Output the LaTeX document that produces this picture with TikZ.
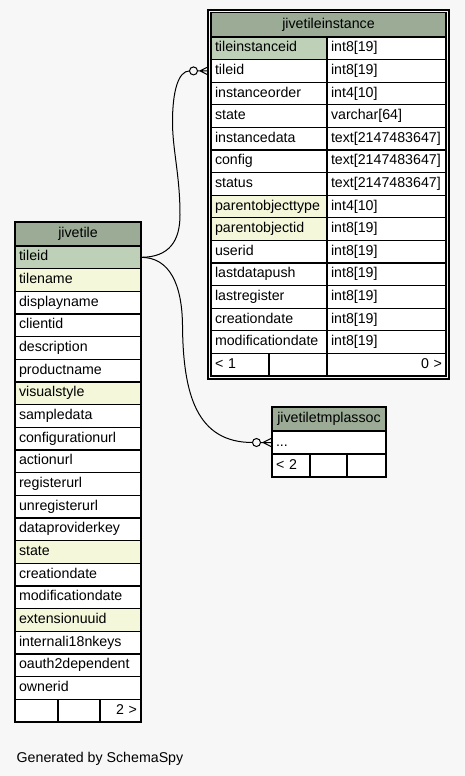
\documentclass[tikz,border=0pt]{standalone}
\usepackage{fontspec}
\setmainfont{Liberation Sans}
\usetikzlibrary{calc}
\definecolor{hdr}{HTML}{9BAB96}
\definecolor{pk}{HTML}{BED1B8}
\definecolor{idx}{HTML}{F4F7DA}
\definecolor{bg}{HTML}{F7F7F7}
\begin{document}
\begin{tikzpicture}[x=1pt,y=-1pt,
  every node/.style={font=\fontsize{14.2}{17}\selectfont, text=black},
  cell/.style={draw=black, line width=1.2pt, anchor=north west, inner xsep=4pt, inner ysep=0pt, outer sep=0pt, text height=10pt, text depth=3pt, align=left, fill=white},
  conn/.style={draw=black, line width=1pt},
  lbl/.style={anchor=base west, inner sep=0pt}]
\useasboundingbox[fill=bg] (0,0) rectangle (465,776);

% ---------- jivetile ----------
\node[cell, fill=hdr, align=center, text width=118pt, minimum height=24pt] (jth) at (15,222) {jivetile};
\foreach \n/\cl [count=\i] in {tileid/pk, tilename/idx, displayname/white, clientid/white, description/white, productname/white, visualstyle/idx, sampledata/white, configurationurl/white, actionurl/white, registerurl/white, unregisterurl/white, dataproviderkey/white, state/idx, creationdate/white, modificationdate/white, extensionuuid/idx, internali18nkeys/white, oauth2dependent/white, ownerid/white}
  \node[cell, fill=\cl, text width=118pt, minimum height=22.67pt] (jt\i) at (15,{246+(\i-1)*22.667}) {\n};
\node[cell, text width=35pt, minimum height=22.67pt] (jtf1) at (15,699.33) {};
\node[cell, text width=34pt, minimum height=22.67pt] (jtf2) at (58,699.33) {};
\node[cell, text width=33pt, align=right, minimum height=22.67pt] (jtf3) at (100,699.33) {2 >};

% ---------- jivetileinstance ----------
\draw[line width=2pt] (208,10) rectangle (449,378.5);
\node[cell, fill=hdr, align=center, text width=227pt, minimum height=24.5pt] (tih) at (211,12.5) {jivetileinstance};
\foreach \n/\ty/\cl [count=\i] in {tileinstanceid/int8[19]/pk, tileid/int8[19]/white, instanceorder/int4[10]/white, state/varchar[64]/white, instancedata/text[2147483647]/white, config/text[2147483647]/white, status/text[2147483647]/white, parentobjecttype/int4[10]/idx, parentobjectid/int8[19]/idx, userid/int8[19]/white, lastdatapush/int8[19]/white, lastregister/int8[19]/white, creationdate/int8[19]/white, modificationdate/int8[19]/white}
{
  \node[cell, fill=\cl, text width=108pt, minimum height=22.6pt] (tin\i) at (211,{37+(\i-1)*22.6}) {\n};
  \node[cell, text width=111pt, minimum height=22.6pt] (tit\i) at (327,{37+(\i-1)*22.6}) {\ty};
}
\node[cell, text width=50pt, minimum height=22.6pt] (tif1) at (211,353.4) {< 1};
\node[cell, text width=50pt, minimum height=22.6pt] (tif2) at (269,353.4) {};
\node[cell, text width=111pt, align=right, minimum height=22.6pt] (tif3) at (327,353.4) {0 >};

% ---------- jivetiletmplassoc ----------
\node[cell, fill=hdr, align=center, text width=106pt, minimum height=24pt] (tah) at (272,407) {jivetiletmplassoc};
\node[cell, text width=106pt, minimum height=23pt] (ta1) at (272,431) {...};
\node[cell, text width=30pt, minimum height=23pt] (taf1) at (272,454) {< 2};
\node[cell, text width=29pt, minimum height=23pt] (taf2) at (310,454) {};
\node[cell, text width=31pt, minimum height=23pt] (taf3) at (347,454) {};

% ---------- connectors ----------
\coordinate (a1) at ($(tin2.west)+(-3,0)$);
\coordinate (v1) at ($(a1)+(-8,0)$);
\coordinate (o1) at ($(v1)+(-6.5,0)$);
\coordinate (e1) at ($(o1)+(-4,0)$);
\draw[conn] (jt1.east) .. controls (170,257.3) and (180,240) .. (180,215) .. controls (180,175) and (172.5,150) .. (172.5,122) .. controls (172.5,92) and (178,71) .. (e1);
\draw[conn] (o1) circle[radius=4];
\draw[conn] ($(o1)+(4,0)$) -- (v1) -- (a1) (v1) -- ($(a1)+(0,-4)$) (v1) -- ($(a1)+(0,4)$);

\coordinate (a2) at ($(ta1.west)+(-1,0)$);
\coordinate (v2) at ($(a2)+(-8,0)$);
\coordinate (o2) at ($(v2)+(-6.5,0)$);
\coordinate (e2) at ($(o2)+(-4,0)$);
\draw[conn] (jt1.east) .. controls (170,257.3) and (182,285) .. (182.5,325) .. controls (183,395) and (197,442.5) .. (e2);
\draw[conn] (o2) circle[radius=4];
\draw[conn] ($(o2)+(4,0)$) -- (v2) -- (a2) (v2) -- ($(a2)+(0,-4)$) (v2) -- ($(a2)+(0,4)$);

\node[lbl] (gen) at (16.5,762) {Generated by SchemaSpy};
\end{tikzpicture}
\end{document}
